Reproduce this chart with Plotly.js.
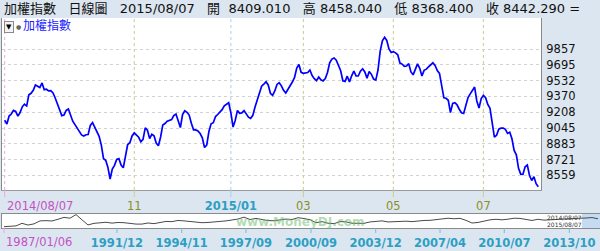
<!DOCTYPE html>
<html><head><meta charset="utf-8">
<script src="https://cdn.plot.ly/plotly-3.0.1.min.js"></script>
<style>html,body{margin:0;padding:0;background:#dce6f0;overflow:hidden;} #chart{width:600px;height:251px;}</style>
</head><body><div id="chart"></div>
<script>
// ---- Data (TAIEX daily closes, trading-day index 0 = 2014/08/07 ... last = 2015/08/07)
const closes = [
 9127,9086,9168,9189,9226,9216,9167,9204,9263,9290,
 9271,9386,9402,9432,9487,9472,9461,9508,9439,9444,
 9427,9430,9406,9354,9289,9222,9172,9179,9226,9240,
 9183,9115,9080,9041,8999,8974,8963,8976,8978,9072,
 9101,9050,8999,8959,8870,8730,8713,8640,8521,8624,
 8661,8722,8730,8664,8636,8759,8876,8894,8964,8995,
 8976,8950,8904,8929,9047,9022,8937,8981,8966,8890,
 8862,8953,9077,9091,9115,9121,9132,9173,9189,9119,
 9050,9184,9223,9207,9178,9095,9026,9026,9016,8988,
 8945,8845,8870,9009,9088,9100,9163,9184,9210,9234,
 9274,9288,9305,9201,9055,9125,9226,9196,9200,9224,
 9185,9157,9145,9176,9261,9331,9407,9475,9495,9521,
 9488,9402,9381,9426,9493,9511,9479,9433,9405,9441,
 9489,9518,9565,9662,9698,9618,9607,9609,9615,9641,
 9585,9552,9532,9569,9541,9529,9553,9616,9715,9754,
 9765,9742,9686,9634,9531,9524,9578,9518,9582,9631,
 9581,9580,9630,9654,9621,9558,9625,9597,9549,9538,
 9641,9835,9942,9977,9945,9858,9821,9830,9818,9798,
 9713,9702,9679,9682,9707,9621,9592,9648,9704,9659,
 9580,9638,9650,9673,9697,9715,9688,9636,9607,9497,
 9355,9351,9330,9204,9299,9305,9284,9238,9202,9195,
 9265,9359,9396,9436,9466,9323,9251,9347,9381,9357,
 9288,9247,9106,8951,8971,9033,9044,9045,9031,8990,
 9002,8934,8814,8770,8630,8571,8568,8646,8665,8557,
 8506,8544,8473,8442.29
];
const yTickVals = [8559, 8721, 8883, 9045, 9208, 9370, 9532, 9695, 9857];
const monthTickIdx  = [0, 59, 103, 136, 177, 218];
const monthTickText = ['2014/08/07', '11', '2015/01', '03', '05', '07'];
const monthTickKind = ['start', 'month', 'year', 'month', 'month', 'month'];

// long-term overview (navigator), evenly spaced samples 1987/01/06 ... 2015/08/07
const navValues = [
 1040,1400,1800,4200,2600,3700,6500,6700,6400,8000,
 9800,9000,12400,7500,2700,4200,5000,5200,4400,5000,
 4800,4000,3500,3500,4500,3900,4700,6000,5800,6900,
 6500,5800,5200,4800,5000,5800,6000,6500,7300,8200,
 10000,7800,8800,7700,6800,6600,7500,8200,7800,9500,
 8700,7600,4800,5800,4300,3900,5800,5600,4300,4600,
 4200,5500,5900,6500,5500,5800,6000,6200,5800,6600,
 6900,7000,7800,8200,9000,8500,8900,7000,4500,5000,
 6500,7500,8000,7500,8100,9000,8800,7700,6900,8000,
 7200,7500,7900,8200,8200,8500,9000,9200,9600,8442
];
const navTickIdx  = [0, 18.83, 29.62, 40.33, 51.17, 61.95, 72.67, 83.38, 94.22];
const navTickText = ['1987/01/06','1991/12','1994/11','1997/09','2000/09','2003/12','2007/04','2010/07','2013/10'];
const navWindow = [96.33, 99.33];          // selected one-year window
const navWindowLabels = ['2014/08/07', '2015/08/07'];

const headerText = '加權指數\u00a0\u00a0\u00a0日線圖\u00a0\u00a0\u00a02015/08/07\u00a0\u00a0\u00a0開\u00a0\u00a08409.010\u00a0\u00a0\u00a0高\u00a08458.040\u00a0\u00a0\u00a0低\u00a08368.400\u00a0\u00a0\u00a0收\u00a08442.290\u00a0=';
const seriesName = '加權指數';
const watermark = 'www.MoneyDJ.com';

// ---- Styles
const FONT = 'DejaVu Sans, Noto Sans CJK TC, sans-serif';
const kindStyle = {
  start: {label: '#c452c4', grid: '#e8a8e8', bold: false},
  month: {label: '#8e8e1e', grid: '#cbcb90', bold: false},
  year:  {label: '#2c9fc4', grid: '#9fd5ea', bold: true}
};
const BG = '#dce6f0';

const mainTop = 1 - 18/251, mainBot = 1 - 190/251;
const navTop = 1 - 214/251, navBot = 1 - 228/251;

function styled(text, kind) {
  const s = kindStyle[kind];
  const t = s.bold ? '<b>' + text + '</b>' : text;
  return '<span style="color:' + s.label + '">' + t + '</span>';
}

const xIdx = closes.map((_, i) => i);
const navIdx = navValues.map((_, i) => i);

const traces = [
  {x: xIdx, y: closes, type: 'scatter', mode: 'lines', xaxis: 'x', yaxis: 'y',
   line: {color: '#0000ff', width: 1.7}, hoverinfo: 'skip'},
  {x: navIdx, y: navValues, type: 'scatter', mode: 'lines', xaxis: 'x2', yaxis: 'y2',
   line: {color: '#4a4a4a', width: 1}, hoverinfo: 'skip'}
];

const shapes = [];
monthTickIdx.forEach((v, i) => {
  const st = kindStyle[monthTickKind[i]];
  shapes.push({type: 'line', xref: 'x', yref: 'y domain', x0: v, x1: v, y0: 0, y1: 1,
    line: {color: st.grid, width: 1, dash: 'dot'}, layer: 'below'});
  shapes.push({type: 'line', xref: 'x', yref: 'y domain', x0: v, x1: v, y0: 0, y1: -7/172,
    line: {color: st.grid, width: 1}, layer: 'above'});
});
shapes.push({type: 'rect', xref: 'x2', yref: 'y2 domain', x0: navWindow[0], x1: navWindow[1], y0: 0, y1: 1,
  fillcolor: 'rgba(150,190,232,0.55)', line: {width: 0}, layer: 'below'});
navTickIdx.forEach((v, i) => {
  shapes.push({type: 'line', xref: 'x2', yref: 'y2 domain', x0: v, x1: v, y0: 0, y1: -5/14,
    line: {color: i === 0 ? kindStyle.start.grid : '#6fbfdc', width: 1}, layer: 'above'});
});

const annotations = [
  {xref: 'paper', yref: 'paper', x: 2/600, y: 1 - 9/251, xanchor: 'left', yanchor: 'middle',
   text: headerText, showarrow: false, font: {family: FONT, size: 13, color: '#111'}},
  {xref: 'paper', yref: 'paper', x: 4/600, y: 1 - 26.5/251, xanchor: 'left', yanchor: 'middle',
   text: '▼', showarrow: false, font: {family: FONT, size: 7, color: '#000'},
   bgcolor: '#f4f4f4', bordercolor: '#8a8a8a', borderwidth: 1, borderpad: 1},
  {xref: 'paper', yref: 'paper', x: 14/600, y: 1 - 26/251, xanchor: 'left', yanchor: 'middle',
   text: '●', showarrow: false, font: {family: FONT, size: 6, color: '#666'}},
  {xref: 'paper', yref: 'paper', x: 21/600, y: 1 - 26/251, xanchor: 'left', yanchor: 'middle',
   text: seriesName, showarrow: false, font: {family: FONT, size: 12, color: '#1a1aff'}},
  {xref: 'x', yref: 'paper', x: monthTickIdx[0], y: 1 - 206/251, xanchor: 'left', yanchor: 'middle',
   text: monthTickText[0], showarrow: false, font: {family: FONT, size: 11.5, color: kindStyle.start.label}},
  {xref: 'x2', yref: 'paper', x: navTickIdx[0], y: 1 - 242/251, xanchor: 'left', yanchor: 'middle',
   text: navTickText[0], showarrow: false, font: {family: FONT, size: 11.5, color: kindStyle.start.label}},
  {xref: 'paper', yref: 'paper', x: 300/600, y: 1 - 221.5/251, xanchor: 'center', yanchor: 'middle',
   text: '<b>' + watermark + '</b>', showarrow: false, font: {family: FONT, size: 12, color: 'rgba(115,190,115,0.55)'}},
  {xref: 'x2', yref: 'paper', x: 90.2, y: 1 - 217.5/251, xanchor: 'left', yanchor: 'middle',
   text: navWindowLabels[0], showarrow: false, font: {family: FONT, size: 6, color: '#333'}},
  {xref: 'x2', yref: 'paper', x: 90.2, y: 1 - 224.5/251, xanchor: 'left', yanchor: 'middle',
   text: navWindowLabels[1], showarrow: false, font: {family: FONT, size: 6, color: '#333'}}
];

const layout = {
  width: 600, height: 251,
  margin: {l: 0, r: 0, t: 0, b: 0},
  paper_bgcolor: BG, plot_bgcolor: '#ffffff',
  showlegend: false,
  font: {family: FONT, size: 11.5, color: '#111'},
  xaxis: {
    domain: [2/600, 541/600], range: [-1.23, 244.23], anchor: 'y',
    tickmode: 'array', tickvals: monthTickIdx,
    ticktext: monthTickText.map((t, i) => i === 0 ? '' : styled(t, monthTickKind[i])),
    ticks: '', showgrid: false, zeroline: false,
    showline: true, linecolor: '#9a9a9a', linewidth: 1,
    ticklabelstandoff: 5, tickfont: {family: FONT, size: 11.5}
  },
  yaxis: {
    domain: [mainBot, mainTop], range: [8408, 10176], anchor: 'x', side: 'right',
    tickmode: 'array', tickvals: yTickVals, ticktext: yTickVals.map(String),
    ticks: '', showgrid: true, gridcolor: '#d2d2d2', griddash: 'dot', gridwidth: 1,
    zeroline: false, showline: true, mirror: true, linecolor: '#8a8a8a', linewidth: 1,
    ticklabelstandoff: 2, tickfont: {family: FONT, size: 11.5, color: '#111'}
  },
  xaxis2: {
    domain: [2/600, 1], range: [-0.333, 99.333], anchor: 'y2',
    tickmode: 'array', tickvals: navTickIdx,
    ticktext: navTickText.map((t, i) => i === 0 ? '' : styled(t, 'year')),
    ticks: '', showgrid: false, zeroline: false,
    showline: true, mirror: true, linecolor: '#8a8a8a', linewidth: 1,
    ticklabelstandoff: 4, tickfont: {family: FONT, size: 11.5}
  },
  yaxis2: {
    domain: [navBot, navTop], range: [-180, 12960], anchor: 'x2',
    showticklabels: false, ticks: '', showgrid: false, zeroline: false,
    showline: true, mirror: true, linecolor: '#8a8a8a', linewidth: 1
  },
  shapes: shapes,
  annotations: annotations
};

Plotly.newPlot('chart', traces, layout, {staticPlot: true, displayModeBar: false});
</script>
</body></html>
